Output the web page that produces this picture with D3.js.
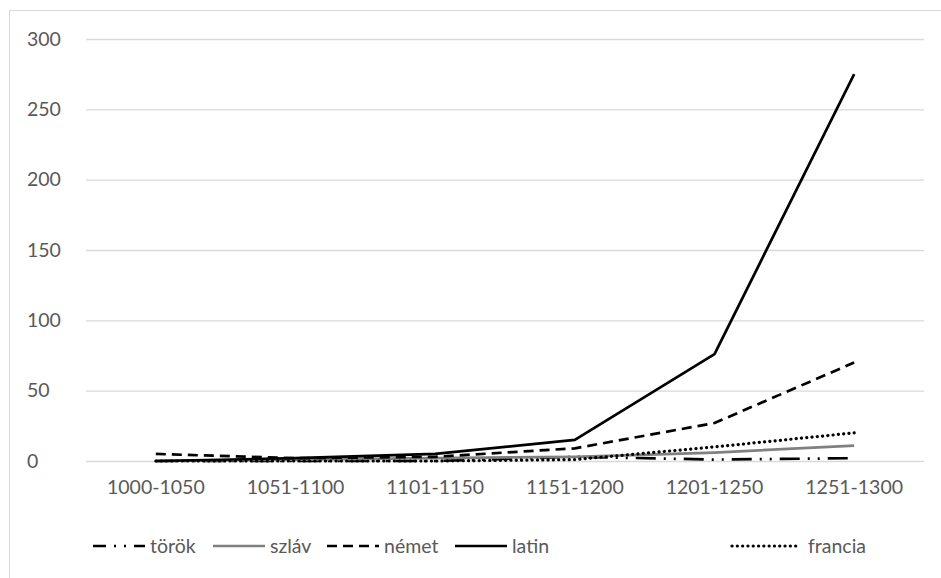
<!DOCTYPE html>
<html>
<head>
<meta charset="utf-8">
<script src="https://cdn.jsdelivr.net/npm/d3@7"></script>
<style>
  body { margin: 0; background: #fff; }
  svg text { font-family: "Lato", "Open Sans", sans-serif; fill: #595959; }
</style>
</head>
<body>
<div id="chart"></div>
<script>
const periods = ["1000-1050", "1051-1100", "1101-1150", "1151-1200", "1201-1250", "1251-1300"];
const torok = [0, 0, 0, 3, 1, 2];
const szlav = [0, 1, 2, 3, 6, 11];
const nemet = [5, 2, 3, 9, 27, 70];
const latin = [0, 2, 5, 15, 76, 275];
const francia = [0, 0, 0, 1, 10, 20];
const yTicks = [0, 50, 100, 150, 200, 250, 300];

const seriesList = [
  { name: "török", values: torok, color: "#000", dash: "20 8 2 8 2 8", cap: "butt" },
  { name: "szláv", values: szlav, color: "#808080", dash: null, cap: "butt" },
  { name: "német", values: nemet, color: "#000", dash: "10 6", cap: "butt" },
  { name: "latin", values: latin, color: "#000", dash: null, cap: "butt" },
  { name: "francia", values: francia, color: "#000", dash: "0.1 5.2", cap: "round" }
];

const width = 941, height = 578;
const margin = { left: 86, right: 17, top: 39, bottom: 117 };
const fontSize = 19.5;

const svg = d3.select("#chart").append("svg")
  .attr("width", width).attr("height", height);

svg.append("rect")
  .attr("x", 9.5).attr("y", 10.5)
  .attr("width", 960).attr("height", 600)
  .attr("fill", "none").attr("stroke", "#d9d9d9");

const xScale = d3.scaleBand()
  .domain(periods)
  .range([margin.left, width - margin.right]);

const yScale = d3.scaleLinear()
  .domain([0, 300])
  .range([height - margin.bottom, margin.top]);

// grid
const yAxis = d3.axisLeft(yScale)
  .tickValues(yTicks)
  .tickSize(-(width - margin.left - margin.right));

const yG = svg.append("g")
  .attr("transform", `translate(${margin.left},0)`)
  .call(yAxis);
yG.select(".domain").remove();
yG.selectAll(".tick line").attr("stroke", "#d9d9d9").attr("stroke-width", 1.3);
yG.selectAll(".tick text").attr("font-size", fontSize).attr("text-anchor", "start").attr("x", -59);

const xAxis = d3.axisBottom(xScale).tickSize(0).tickPadding(19);
const xG = svg.append("g")
  .attr("transform", `translate(0,${yScale(0)})`)
  .call(xAxis);
xG.select(".domain").remove();
xG.selectAll(".tick text").attr("font-size", fontSize);

const line = d3.line()
  .x((d, i) => xScale(periods[i]) + xScale.bandwidth() / 2)
  .y(d => yScale(d));

seriesList.forEach(s => {
  svg.append("path")
    .datum(s.values)
    .attr("d", line)
    .attr("fill", "none")
    .attr("stroke", s.color)
    .attr("stroke-width", s.cap === "round" ? 3.2 : 2.7)
    .attr("stroke-linecap", s.cap)
    .attr("stroke-linejoin", "round")
    .attr("stroke-dasharray", s.dash);
});

// legend
const legendX = [93, 213, 327, 455, 732];
const legendY = 546;
const legend = svg.append("g");
seriesList.forEach((s, i) => {
  const g = legend.append("g").attr("transform", `translate(${legendX[i]},${legendY})`);
  g.append("line")
    .attr("x1", 0).attr("x2", s.cap === "round" ? 64 : 52)
    .attr("y1", 0).attr("y2", 0)
    .attr("stroke", s.color)
    .attr("stroke-width", s.cap === "round" ? 3.2 : 2.7)
    .attr("stroke-linecap", s.cap)
    .attr("stroke-dasharray", s.name === "török" ? "13 8 2 8 2 8" : s.dash);
  g.append("text")
    .attr("x", s.cap === "round" ? 76 : 57)
    .attr("y", 7)
    .attr("font-size", fontSize)
    .text(s.name);
});
</script>
</body>
</html>
